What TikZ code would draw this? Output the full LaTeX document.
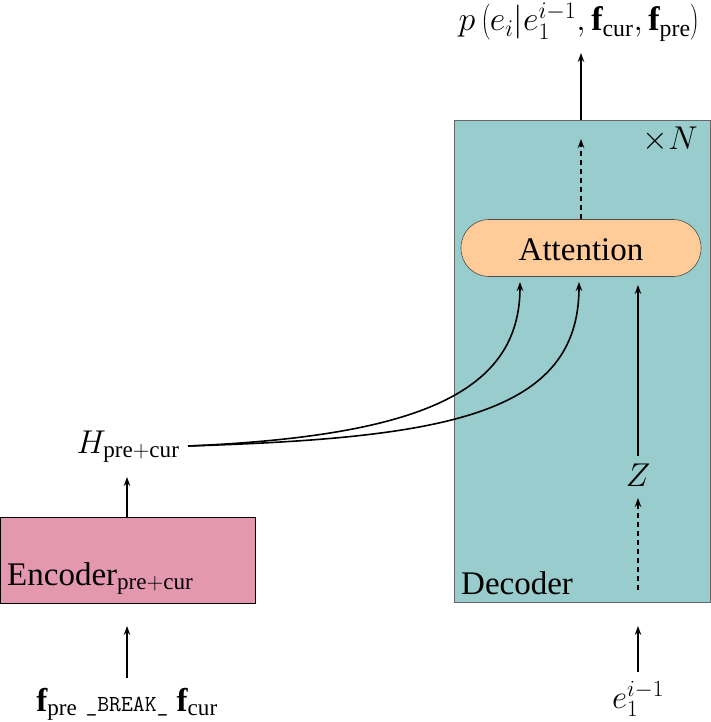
\RequirePackage{fix-cm}
\documentclass[tikz,border=0pt]{standalone}
\usepackage{fontspec}
\setmainfont{Liberation Serif}
\usetikzlibrary{arrows.meta}
\definecolor{encpink}{RGB}{228,152,176}
\definecolor{decteal}{RGB}{153,204,204}
\definecolor{attpeach}{RGB}{255,204,153}
\tikzset{
  arr/.style={line width=1.6pt,-{Stealth[length=9pt,width=6.5pt,inset=3pt]}},
  darr/.style={arr,dash pattern=on 5pt off 4pt},
  lbl/.style={font=\fontsize{33}{38}\selectfont,inner sep=0pt},
}
\begin{document}
\begin{tikzpicture}[x=1pt,y=-1pt]
\useasboundingbox (0,0) rectangle (711,722);
% decoder
\node[draw=black!60,fill=decteal,minimum width=256pt,minimum height=482pt,inner sep=0pt,anchor=north west,line width=0.8pt] (dec) at (454,120) {};
\node[lbl,anchor=base west] (declbl) at (461,594) {Decoder};
\node[lbl,anchor=base east] (times) at (698,150) {$\times N$};
% encoder
\node[draw=black,fill=encpink,minimum width=255pt,minimum height=86pt,inner sep=0pt,anchor=north west,line width=0.8pt] (enc) at (0,517) {};
\node[lbl,anchor=base west] (enclbl) at (7,585) {Encoder$_{\mathrm{pre{+}cur}}$};
% attention
\node[draw=black!70,fill=attpeach,rounded corners=28pt,minimum width=240pt,minimum height=57pt,inner sep=0pt,line width=0.6pt] (att) at (581,248) {};
\node[lbl,anchor=base] (attlbl) at (581,260) {Attention};
% texts
\node[lbl,anchor=base] (H) at (128,453) {$H_{\mathrm{pre{+}cur}}$};
\node[lbl,anchor=base] (fin) at (127,711) {$\mathbf{f}_{\mathrm{pre}}$ {\fontsize{23}{26}\selectfont\ttfamily\_BREAK\_} $\mathbf{f}_{\mathrm{cur}}$};
\node[lbl,anchor=base] (Z) at (638,486) {$Z$};
\node[lbl,anchor=base] (e1) at (638,708) {$e_1^{i-1}$};
\node[font=\fontsize{34}{38}\selectfont,inner sep=0pt,anchor=base] (p) at (579,31) {$p\left(e_i|e_1^{i-1},\mathbf{f}_{\mathrm{cur}},\mathbf{f}_{\mathrm{pre}}\right)$};
% coordinates
\coordinate (inbot) at (127,678);
\coordinate (intop) at (127,626);
\coordinate (encT) at (127,517);
\coordinate (Hb) at (127,477);
\coordinate (Hr) at (188,446);
\coordinate (a1) at (520,282);
\coordinate (a2) at (579,282);
\coordinate (a3) at (638,285);
\coordinate (Ztop) at (638,456);
\coordinate (Zbot) at (638,498);
\coordinate (dbot) at (638,590);
\coordinate (ebot) at (638,672);
\coordinate (etop) at (638,626);
\coordinate (attT) at (581,219);
\coordinate (dtop) at (581,139);
\coordinate (decT) at (581,120);
\coordinate (outT) at (581,53);
% arrows
\draw[arr] (inbot) -- (intop);
\draw[arr] (encT) -- (Hb);
\draw[arr] (Hr) .. controls (420,436) and (520,392) .. (a1);
\draw[arr] (Hr) .. controls (445,438) and (579,415) .. (a2);
\draw[arr] (Ztop) -- (a3);
\draw[darr] (dbot) -- (Zbot);
\draw[arr] (ebot) -- (etop);
\draw[darr] (attT) -- (dtop);
\draw[arr] (decT) -- (outT);
\end{tikzpicture}
\end{document}
